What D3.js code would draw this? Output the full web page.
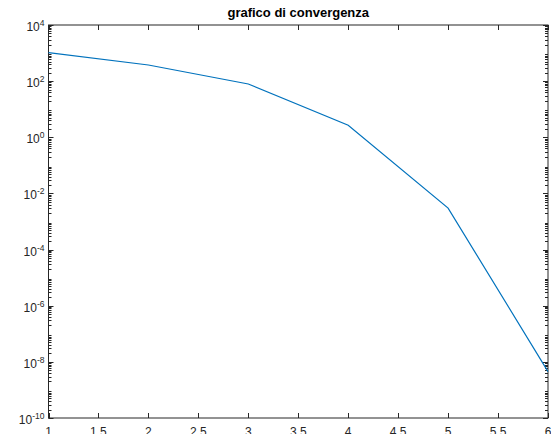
<!DOCTYPE html>
<html>
<head>
<meta charset="utf-8">
<script src="https://cdn.jsdelivr.net/npm/d3@7"></script>
<style>
  html, body { margin: 0; padding: 0; background: #fff; }
  svg { display: block; }
  text { font-family: "Liberation Sans", Arial, Helvetica, sans-serif; fill: #262626; }
</style>
</head>
<body>
<svg id="chart" width="551" height="434"></svg>
<script>
// Iteration index and residual per iteration
const iterations = [1, 2, 3, 4, 5, 6];
const residuals = [1030, 376, 79, 2.7, 3.0e-3, 4.5e-9];
const xTicks = [1, 1.5, 2, 2.5, 3, 3.5, 4, 4.5, 5, 5.5, 6];
const yExponents = [-10, -8, -6, -4, -2, 0, 2, 4];
const chartTitle = "grafico di convergenza";

const svg = d3.select("#chart");
const plotLeft = 48.5, plotRight = 548, plotTop = 25, plotBottom = 418;
const axisColor = "#262626";

const x = d3.scaleLinear().domain([1, 6]).range([plotLeft, plotRight]);
const y = d3.scaleLog().domain([1e-10, 1e4]).range([plotBottom, plotTop]);

// Minor ticks of the log axis (2..9 times each decade)
const minorY = [];
for (let e = -10; e < 4; e++) {
  for (let m = 2; m <= 9; m++) minorY.push(m * Math.pow(10, e));
}

const majorLen = 5, minorLen = 3;
const g = svg.append("g");

// Box frame
g.append("rect")
  .attr("x", plotLeft).attr("y", plotTop)
  .attr("width", plotRight - plotLeft).attr("height", plotBottom - plotTop)
  .attr("fill", "none").attr("stroke", axisColor).attr("stroke-width", 1);

// X ticks, bottom and top, pointing inward
xTicks.forEach(t => {
  const px = Math.round(x(t)) + 0.5;
  g.append("line").attr("x1", px).attr("x2", px).attr("y1", plotBottom).attr("y2", plotBottom - majorLen)
    .attr("stroke", axisColor);
  g.append("line").attr("x1", px).attr("x2", px).attr("y1", plotTop).attr("y2", plotTop + majorLen)
    .attr("stroke", axisColor);
  g.append("text")
    .attr("x", x(t)).attr("y", plotBottom + 18)
    .attr("text-anchor", "middle").attr("font-size", 12)
    .text(d3.format("")(t));
});

// Y major ticks with labels written as 10^n
yExponents.forEach(e => {
  const py = Math.round(y(Math.pow(10, e))) + 0.5;
  g.append("line").attr("x1", plotLeft).attr("x2", plotLeft + majorLen).attr("y1", py).attr("y2", py)
    .attr("stroke", axisColor);
  g.append("line").attr("x1", plotRight).attr("x2", plotRight - majorLen).attr("y1", py).attr("y2", py)
    .attr("stroke", axisColor);
  const label = g.append("text")
    .attr("x", plotLeft - 4).attr("y", py + 5.5)
    .attr("text-anchor", "end").attr("font-size", 12);
  label.append("tspan").text("10");
  label.append("tspan").attr("dy", -5.5).attr("font-size", 8.5).text(String(e));
});

// Y minor ticks
minorY.forEach(v => {
  const py = Math.round(y(v)) + 0.5;
  g.append("line").attr("x1", plotLeft).attr("x2", plotLeft + minorLen).attr("y1", py).attr("y2", py)
    .attr("stroke", axisColor);
  g.append("line").attr("x1", plotRight).attr("x2", plotRight - minorLen).attr("y1", py).attr("y2", py)
    .attr("stroke", axisColor);
});

// Convergence curve
const line = d3.line()
  .x((d, i) => x(iterations[i]))
  .y(d => y(d));
svg.append("path")
  .datum(residuals)
  .attr("d", line)
  .attr("fill", "none")
  .attr("stroke", "#0072bd")
  .attr("stroke-width", 1.2);

// Title
svg.append("text")
  .attr("x", (plotLeft + plotRight) / 2).attr("y", 17)
  .attr("text-anchor", "middle")
  .attr("font-size", 13).attr("font-weight", "bold")
  .style("fill", "#000")
  .text(chartTitle);
</script>
</body>
</html>
